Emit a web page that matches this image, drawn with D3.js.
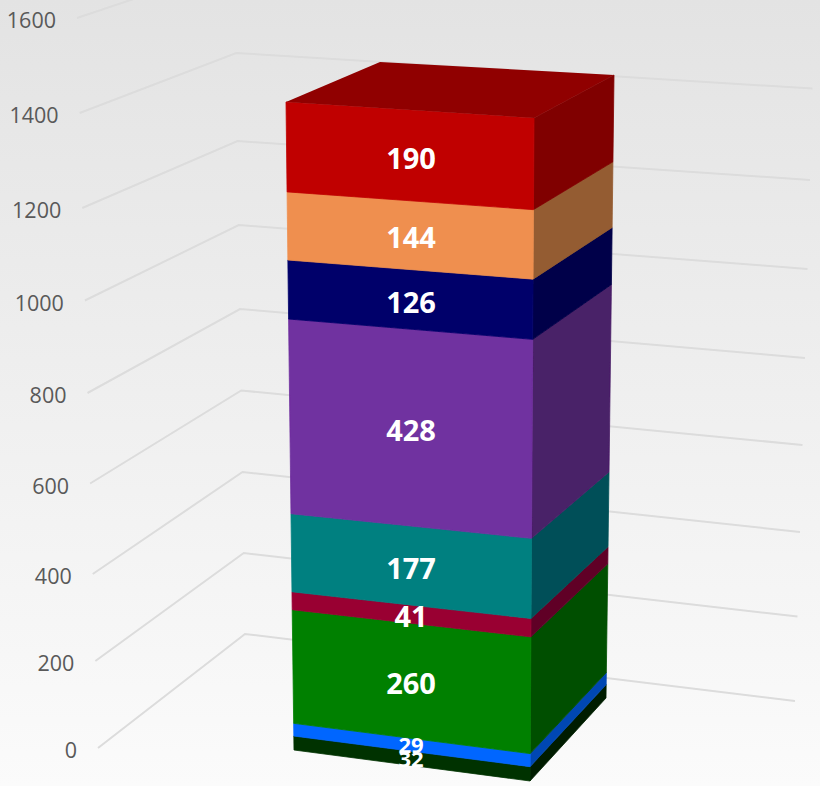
<!DOCTYPE html>
<html><head><meta charset="utf-8">
<script src="https://cdn.jsdelivr.net/npm/d3@7"></script>
<style>html,body{margin:0;padding:0;background:#f8f8f8}svg{display:block}</style>
</head><body><svg id="c" width="820" height="786"></svg>
<script>
// Data (bottom of the stack to top)
const seriesValues = [32, 29, 260, 41, 177, 428, 126, 144, 190];
const frontColors = ["#003300", "#0066ff", "#008000", "#990033", "#008080", "#7030a0", "#00006a", "#ef8f4f", "#c00000"];
const sideColors  = ["#001f00", "#0047b3", "#004f00", "#600028", "#005058", "#4a2068", "#000048", "#945b30", "#800000"];
const topColor = "#900000";
const tickLabels = [0, 200, 400, 600, 800, 1000, 1200, 1400, 1600];

// Projection: each vertical edge of the 3-D scene is a pair of scales
const edge = (dom, xr, yr) => ({
  x: d3.scaleLinear().domain([dom[0], dom[dom.length - 1]]).range(xr),
  y: d3.scaleLinear().domain(dom).range(yr)
});
const gridDom = [0, 400, 800, 1200, 1600];
const gridLeft   = edge(gridDom, [98, 77],  [748, 574, 393, 208, 18]);
const gridCorner = edge(gridDom, [245, 235],[634, 472, 309, 141, -35]);
const gridRight  = edge(gridDom, [795, 815],[701, 532, 358, 180, -3]);
const barDom = [0, 500, 1000, 1427];
const frontL = edge(barDom, [294, 286], [750, 531.5, 304, 102]);
const frontR = edge(barDom, [530, 534], [781, 556.5, 324, 118]);
const backR  = edge(barDom, [606, 614], [698, 489, 270, 75]);
const topBackLeft = [380, 62];

const pt = (e, v) => [e.x(v), e.y(v)];
const svg = d3.select("#c");
const defs = svg.append("defs");
const g = defs.append("linearGradient").attr("id", "bg").attr("x1", 0).attr("x2", 0).attr("y1", 0).attr("y2", 1);
g.append("stop").attr("offset", 0).attr("stop-color", "#e3e3e3");
g.append("stop").attr("offset", 1).attr("stop-color", "#fbfbfb");
defs.append("filter").attr("id", "soft")
  .attr("filterUnits", "userSpaceOnUse").attr("x", 0).attr("y", 0).attr("width", 820).attr("height", 786)
  .append("feGaussianBlur").attr("stdDeviation", 0.6);
svg.append("rect").attr("width", 820).attr("height", 786).attr("fill", "url(#bg)");

// Gridlines
const line = d3.line();
svg.append("g").attr("filter", "url(#soft)").selectAll("path").data(tickLabels).join("path")
  .attr("d", v => line([pt(gridLeft, v), pt(gridCorner, v), pt(gridRight, v)]))
  .attr("fill", "none").attr("stroke", "#dcdcdc").attr("stroke-width", 2);

// Tick labels
svg.append("g").selectAll("text").data(tickLabels).join("text")
  .attr("x", v => gridLeft.x(v) - 21)
  .attr("y", v => gridLeft.y(v) + 4.5)
  .attr("text-anchor", "end")
  .attr("dominant-baseline", "middle")
  .attr("font-family", "'Open Sans','Noto Sans',sans-serif")
  .attr("font-size", 21.5)
  .attr("fill", "#595959")
  .text(d => d);

// Stack
const stack = [];
seriesValues.reduce((acc, v, i) => { stack.push({ v, i, y0: acc, y1: acc + v }); return acc + v; }, 0);
const total = d3.sum(seriesValues);
const bars = svg.append("g").attr("filter", "url(#soft)");
bars.selectAll("path.side").data(stack).join("path").attr("class", "side")
  .attr("d", d => line([pt(frontR, d.y0), pt(backR, d.y0), pt(backR, d.y1), pt(frontR, d.y1)]) + "Z")
  .attr("fill", d => sideColors[d.i]).attr("stroke", d => sideColors[d.i]).attr("stroke-width", 0.8);
bars.selectAll("path.front").data(stack).join("path").attr("class", "front")
  .attr("d", d => line([pt(frontL, d.y0), pt(frontR, d.y0), pt(frontR, d.y1), pt(frontL, d.y1)]) + "Z")
  .attr("fill", d => frontColors[d.i]).attr("stroke", d => frontColors[d.i]).attr("stroke-width", 0.8);
bars.append("path")
  .attr("d", line([pt(frontL, total), pt(frontR, total), pt(backR, total), topBackLeft]) + "Z")
  .attr("fill", topColor);

// Value labels (the two thin bottom bands carry a smaller label)
const thin = d => d.v < 40;
svg.append("g").selectAll("text").data(stack).join("text")
  .attr("x", 411)
  .attr("y", d => {
    const m = (d.y0 + d.y1) / 2;
    return (frontL.y(m) + frontR.y(m)) / 2 + (thin(d) ? 2.5 : 5.5);
  })
  .attr("text-anchor", "middle")
  .attr("dominant-baseline", "middle")
  .attr("font-family", "'Open Sans','Noto Sans',sans-serif")
  .attr("font-weight", 700)
  .attr("font-size", d => thin(d) ? 22 : 29)
  .attr("fill", "#fff")
  .text(d => d.v);
</script></body></html>
